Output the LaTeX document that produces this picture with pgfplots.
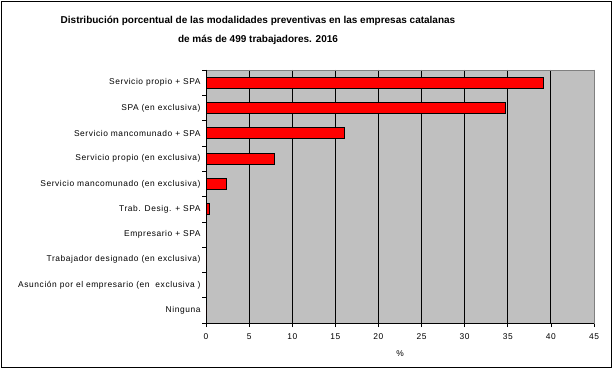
\documentclass[border=0pt]{standalone}
\usepackage{pgfplots}
\pgfplotsset{compat=1.18}
\usepackage{fontspec}
\setmainfont{Liberation Sans}
\newfontfamily\lblfont[LetterSpace=7]{Liberation Sans}
\definecolor{plotgray}{HTML}{C0C0C0}
\definecolor{bargred}{HTML}{FF0000}
\begin{document}
\begin{tikzpicture}[x=1bp,y=1bp]
\path[use as bounding box] (0,0) rectangle (613,369);
\draw[line width=1.5bp] (1.5,1.5) rectangle (611.5,367.5);
\node[align=center,font=\fontsize{10bp}{19bp}\selectfont\bfseries] at (258,338.5)
 {Distribución porcentual de las modalidades preventivas en las empresas catalanas\\de más de 499 trabajadores. 2016};
\begin{axis}[
  at={(206bp,46bp)}, anchor=south west,
  scale only axis, width=388bp, height=253bp,
  xmin=0, xmax=45, ymin=-0.5, ymax=9.5,
  y dir=reverse,
  axis background/.style={fill=plotgray},
  axis line style={draw=gray},
  xtick={0,5,...,45},
  xmajorgrids, grid style={black, line width=0.8bp},
  ytick={0,...,9},
  yticklabels={Servicio propio + SPA, SPA (en exclusiva), Servicio mancomunado + SPA, Servicio propio (en exclusiva), Servicio mancomunado (en exclusiva), Trab. Desig. + SPA, Empresario + SPA, Trabajador designado (en exclusiva), {Asunción por el empresario (en\ \ exclusiva\ )}, Ninguna},
  y tick style={draw=none},
  extra y ticks={-0.5,0.5,...,9.5},
  extra y tick labels={},
  extra y tick style={y tick style={draw=black, line width=0.6bp}, major tick length=4bp, tick align=outside, grid=none},
  x tick style={draw=black, line width=0.6bp},
  major tick length=4bp,
  tick align=outside,
  tick pos=left,
  ticklabel style={font=\lblfont\fontsize{8.4bp}{10bp}\selectfont},
  /pgf/number format/assume math mode=true,
  yticklabel style={xshift=2bp},
  xticklabel style={yshift=-3bp},
  xlabel={\%},
  xlabel style={font=\lblfont\fontsize{8.4bp}{10bp}\selectfont, yshift=-4bp},
  xbar, bar width=11bp,
  clip=false,
]
\draw[black, line width=0.8bp] (axis cs:0,-0.5) -- (axis cs:0,9.5) -- (axis cs:45,9.5);
\addplot[fill=bargred, draw=black, line width=0.8bp] coordinates {
(39.1,0) (34.7,1) (16.0,2) (7.93,3) (2.32,4) (0.39,5) (0,6) (0,7) (0,8) (0,9)};
\end{axis}
\end{tikzpicture}
\end{document}
